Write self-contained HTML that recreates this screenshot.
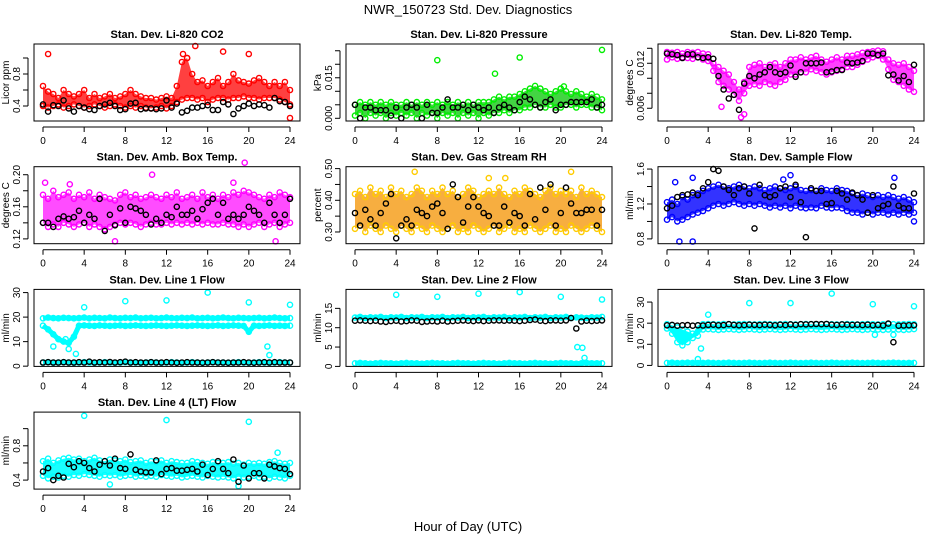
<!DOCTYPE html>
<html><head><meta charset="utf-8">
<style>
html,body{margin:0;padding:0;background:#fff;}
svg{display:block;font-family:"Liberation Sans",sans-serif;}
</style></head>
<body>
<svg id="chart" width="936" height="540" viewBox="0 0 936 540">
<text x="468" y="14" text-anchor="middle" font-size="13">NWR_150723  Std. Dev. Diagnostics</text>
<text x="468" y="531" text-anchor="middle" font-size="13">Hour of Day (UTC)</text>
</svg>
<script>
const hours=[0,0.5,1,1.5,2,2.5,3, 3.5,4,4.5,5,5.5,6,6.5, 7,7.5,8,8.5,9,9.5,10, 10.5,11,11.5,12,12.5,13,13.5, 14,14.5,15,15.5,16,16.5,17, 17.5,18,18.5,19,19.5,20,20.5, 21,21.5,22,22.5,23,23.5,24];
const xTicks=[0,4,8,12,16,20,24];

// CO2
const co2Hi=[.65,.58,.55,.50,.60,.55,.52, .55,.60,.50,.55,.50,.52,.55, .50,.52,.55,.60,.55,.52,.50, .50,.48,.50,.52,.50,.65,.95, 1.0,.80,.70,.72,.65,.70,.75, .65,.70,.80,.72,.70,.68,.72, .75,.70,.65,.70,.65,.70,.60];
const co2Lo=[.40,.38,.40,.42,.38,.40,.42, .40,.38,.40,.42,.40,.38,.40, .42,.40,.38,.40,.38,.40,.38, .37,.38,.40,.37,.40,.45,.48, .50,.50,.48,.50,.45,.48,.50, .50,.48,.50,.50,.52,.50,.50, .48,.50,.50,.50,.48,.45,.42];
const co2Black=[.42,.33,.41,.40,.47,.37,.33, .40,.38,.36,.35,.40,.42,.44, .40,.35,.36,.43,.44,.36,.37, .37,.36,.37,.47,.38,.43,.32, .34,.38,.38,.40,.41,.35,.35, .45,.42,.30,.37,.40,.43,.40, .42,.41,.38,.50,.46,.45,.40];
const co2OutT=[0.5,13.6,14,14.8,17.5,20,24];
const co2OutV=[1.05,1.05,1.0,1.15,1.08,1.05,0.25];

// Pressure
const presHi=[.005,.006,.005,.006,.005,.006,.005, .006,.005,.005,.006,.005,.006,.005, .006,.005,.006,.005,.006,.005,.006, .005,.006,.005,.006,.006,.006,.007, .008,.007,.008,.008,.009,.010,.011, .012,.011,.010,.009,.010,.011,.010, .009,.010,.009,.008,.009,.008,.007];
const presLo=[.001,.002,.000,.002,.001,.002,.000, .002,.001,.002,.001,.002,.000,.002, .001,.002,.000,.002,.001,.002,.000, .002,.001,.002,.000,.002,.001,.002, .002,.003,.002,.003,.003,.004,.004, .005,.004,.004,.005,.004,.004,.005, .005,.004,.005,.005,.004,.004,.003];
const presBlack=[.005,.000,.004,.004,.003,.003,.003, .001,.004,.000,.004,.005,.004,.000, .005,.002,.002,.004,.007,.004,.004, .005,.003,.005,.004,.003,.004,.002, .004,.005,.004,.003,.006,.008,.007, .005,.004,.006,.007,.003,.005,.005, .006,.006,.006,.006,.007,.004,.005];
const presOutT=[8,13.6,16,20.3,24];
const presOutV=[.0215,.0165,.0225,.0118,.0253];

// Li-820 Temp
const tempHi=[.0135,.0134,.0135,.0133,.0135,.0134,.0135, .0133,.0132,.0120,.0115,.0110,.0105,.0095, .0085,.0095,.0115,.0118,.0120,.0115,.0118, .0120,.0115,.0120,.0125,.0125,.0128,.0125, .0128,.0130,.0125,.0122,.0125,.0128,.0125, .0130,.0130,.0132,.0134,.0135,.0136,.0137, .0136,.0125,.0120,.0118,.0120,.0115,.0110];
const tempLo=[.0125,.0128,.0126,.0128,.0127,.0126,.0128, .0125,.0123,.0110,.0095,.0090,.0085,.0078, .0070,.0080,.0090,.0092,.0090,.0095,.0092, .0090,.0095,.0098,.0105,.0105,.0108,.0108, .0112,.0110,.0108,.0105,.0108,.0110,.0112, .0115,.0115,.0118,.0122,.0125,.0128,.0130, .0125,.0112,.0098,.0095,.0090,.0085,.0082];
const tempBlack=[.0133,.0132,.0131,.0127,.0132,.0132,.0128, .0127,.0128,.0126,.0103,.0085,.0073,.0078, .0058,.0093,.0103,.0100,.0105,.0108,.0115, .0108,.0106,.0108,.0117,.0102,.0108,.0120, .0120,.0120,.0121,.0108,.0109,.0111,.0111, .0121,.0120,.0121,.0123,.0133,.0133,.0131, .0133,.0104,.0105,.0097,.0103,.0095,.0118];
const tempOutT=[7.2,7.5,5.3];
const tempOutV=[.0048,.0052,.0062];

// Amb box temp
const ambHi=[.175,.170,.180,.172,.175,.178,.170, .175,.172,.178,.170,.175,.172,.170, .168,.175,.178,.172,.175,.170,.172, .175,.172,.170,.175,.172,.178,.170, .172,.175,.170,.178,.172,.175,.170, .175,.172,.178,.175,.180,.178,.175, .172,.170,.175,.172,.178,.175,.172];
const ambLo=[.140,.135,.138,.135,.140,.138,.135, .138,.140,.135,.138,.135,.132,.135, .138,.140,.138,.140,.138,.135,.138, .140,.138,.138,.140,.138,.140,.138, .140,.138,.140,.138,.140,.138,.138, .140,.138,.138,.135,.138,.135,.138, .140,.135,.138,.140,.135,.138,.140];
const ambBlack=[.140,.140,.135,.145,.148,.145,.147, .155,.140,.150,.145,.170,.130,.150, .137,.158,.140,.160,.158,.155,.150, .138,.145,.140,.150,.147,.160,.150, .150,.155,.145,.157,.165,.170,.150, .165,.145,.150,.145,.150,.160,.155, .150,.140,.165,.150,.140,.150,.170];
const ambOutT=[0.2,10.6,19.6,7,22.6,2.6,18.5];
const ambOutV=[.19,.20,.215,.117,.117,.188,.19];

// Gas stream RH
const rhHi=[.42,.43,.41,.44,.42,.43,.41, .44,.42,.43,.41,.42,.44,.43, .41,.43,.42,.44,.42,.43,.41, .42,.44,.43,.41,.42,.43,.42, .44,.42,.41,.43,.42,.44,.43, .42,.41,.43,.44,.42,.43,.42, .43,.41,.44,.42,.43,.42,.41];
const rhLo=[.31,.32,.30,.32,.31,.30,.32, .31,.30,.32,.31,.30,.32,.31, .30,.32,.31,.30,.31,.32,.30, .31,.30,.32,.31,.30,.31,.32, .30,.31,.32,.30,.31,.30,.32, .31,.30,.31,.32,.30,.31,.30, .32,.31,.30,.31,.32,.31,.30];
const rhBlack=[.36,.32,.37,.34,.32,.36,.39, .42,.28,.32,.34,.32,.37,.36, .35,.38,.39,.36,.31,.45,.41, .33,.38,.41,.38,.36,.35,.32, .32,.38,.33,.36,.35,.32,.42, .34,.44,.37,.45,.32,.36,.44, .39,.36,.36,.37,.37,.32,.37];
const rhOutT=[5.8,13,14.6,21];
const rhOutV=[.49,.47,.47,.49];

// Sample flow
const sfHi=[1.22,1.25,1.20,1.28,1.25,1.30,1.32, 1.35,1.38,1.40,1.42,1.40,1.38,1.40, 1.42,1.40,1.38,1.40,1.38,1.36,1.38, 1.40,1.38,1.36,1.38,1.40,1.36,1.35, 1.36,1.35,1.38,1.36,1.35,1.38,1.36, 1.35,1.32,1.30,1.32,1.30,1.28,1.30, 1.28,1.30,1.28,1.26,1.28,1.25,1.22];
const sfLo=[1.02,1.05,1.00,1.02,1.05,1.08,1.10, 1.12,1.15,1.18,1.20,1.18,1.20,1.22, 1.20,1.18,1.20,1.18,1.20,1.18,1.16, 1.18,1.16,1.18,1.15,1.18,1.16,1.15, 1.16,1.15,1.18,1.16,1.15,1.16,1.15, 1.12,1.10,1.10,1.08,1.10,1.08,1.10, 1.10,1.08,1.10,1.08,1.10,1.08,1.10];
const sfBlack=[1.15,1.18,1.28,1.30,1.31,1.33,1.30, 1.38,1.45,1.60,1.58,1.40,1.36,1.30, 1.38,1.40,1.32,0.92,1.42,1.30,1.28, 1.30,1.38,1.40,1.28,1.42,1.22,0.82, 1.38,1.35,1.35,1.20,1.21,1.35,1.32, 1.25,1.33,1.30,1.25,1.10,1.30,1.15, 1.18,1.20,1.40,1.18,1.15,1.15,1.32];
const sfOutT=[1.2,2.5,0.8,2.5,11.3,12,22.1,24];
const sfOutV=[0.77,0.77,1.45,1.50,1.48,1.53,1.50,1.00];

// Line 1 flow
const l1Hi=[19.5,19.8,19.6,19.5,19.7,19.6,19.5, 19.6,19.8,19.5,19.7,19.6,19.5,19.8, 19.6,19.5,19.7,19.6,19.8,19.5,19.6, 19.7,19.5,19.6,19.8,19.6,19.5,19.7, 19.6,19.8,19.5,19.6,19.7,19.5,19.6, 19.8,19.6,19.5,19.7,19.6,19.5,19.6, 19.7,19.5,19.6,19.8,19.6,19.5,19.6];
const l1Mid=[16.5,15.0,13.0,11.0,10.0,9.5,12.0, 16.5,16.6,16.5,16.4,16.6,16.5,16.4, 16.5,16.6,16.4,16.5,16.6,16.5,16.4, 16.5,16.6,16.5,16.4,16.5,16.6,16.5, 16.4,16.5,16.6,16.5,16.4,16.5,16.6, 16.4,16.5,16.6,16.5,16.4,14.0,16.5, 16.4,16.5,16.6,16.4,16.5,16.4,16.5];
const l1Lo=[1.5,1.6,1.4,1.5,1.6,1.5,1.4, 1.5,1.6,1.5,1.4,1.5,1.6,1.5, 1.4,1.5,1.6,1.5,1.5,1.4,1.5, 1.6,1.5,1.4,1.5,1.6,1.5,1.4, 1.5,1.6,1.5,1.4,1.5,1.6,1.5, 1.5,1.4,1.5,1.6,1.5,1.4,1.5, 1.6,1.5,1.4,1.5,1.6,1.5,1.5];
const l1Black=[1.5,1.6,1.5,1.5,1.6,1.5,1.5, 1.6,1.5,1.8,1.5,1.6,1.5,1.7, 1.5,1.6,1.8,1.5,1.6,1.5,1.5, 1.6,1.5,1.5,1.6,1.5,1.4,1.5, 1.6,1.5,1.5,1.4,1.5,1.6,1.5, 1.5,1.4,1.5,1.5,1.6,1.5,1.4, 1.5,1.6,1.5,1.6,1.5,1.5,1.5];
const l1OutT=[4,8,12,16,20,24,2.5,3.2,21.8,22,1,2.2];
const l1OutV=[24,26.5,26.8,30,26,25,7,5,8,4.5,8,11];

// Line 2 flow
const l2Hi=[12.6,12.8,12.5,12.7,12.6,12.8,12.5, 12.7,12.6,12.8,12.5,12.7,12.6,12.8, 12.5,12.7,12.6,12.8,12.5,12.7,12.6, 12.8,12.5,12.7,12.6,12.8,12.5,12.7, 12.6,12.8,12.5,12.7,12.6,12.8,12.5, 12.7,12.6,12.8,12.5,12.7,12.6,12.8, 12.5,12.7,12.6,12.5,12.7,12.6,12.8];
const l2Lo=[0.8,0.9,0.8,0.7,0.8,0.9,0.8, 0.8,0.7,0.8,0.9,0.8,0.8,0.7, 0.8,0.9,0.8,0.8,0.7,0.8,0.9, 0.8,0.8,0.7,0.8,0.9,0.8,0.8, 0.7,0.8,0.9,0.8,0.8,0.7,0.8, 0.9,0.8,0.8,0.7,0.8,0.9,0.8, 0.8,0.7,0.8,0.9,0.8,0.8,0.8];
const l2Black=[11.8,11.9,11.8,11.7,11.8,11.6,11.5, 11.7,11.8,11.6,11.7,11.9,11.8,11.5, 11.6,11.7,11.6,11.8,11.6,11.7,11.8, 11.9,11.8,11.7,11.9,11.7,11.8,11.9, 11.9,11.8,11.9,11.8,11.7,11.8,12.0, 12.1,11.8,11.7,11.9,11.9,11.8,11.9, 12.5,9.8,11.6,11.8,11.7,11.8,11.9];
const l2OutT=[4,8,12,16,20,24,21.6,22.1,22.3];
const l2OutV=[18.5,18,18.8,19.2,18,17.3,5,4.8,2.2];

// Line 3 flow
const l3Hi=[19.5,19.0,18.0,17.0,16.0,15.0,19.0, 19.5,19.6,19.5,19.4,19.6,19.5,19.4, 19.5,19.6,19.5,19.4,19.5,19.6,19.5, 19.4,19.5,19.6,19.5,19.4,19.5,19.6, 19.5,19.4,19.5,19.6,19.5,19.4,19.5, 19.6,19.5,19.4,19.5,19.6,19.5,19.4, 19.5,19.6,19.5,19.4,19.5,19.6,19.5];
const l3Lo=[17.5,15.0,11.0,9.5,11.0,13.0,14.0, 17.0,17.2,17.0,16.8,17.0,17.2,17.0, 16.8,17.0,17.2,17.0,16.8,17.0,17.2, 17.0,16.8,17.0,17.2,17.0,16.8,17.0, 17.2,17.0,16.8,17.0,17.2,17.0,16.8, 17.0,17.2,17.0,16.8,17.0,17.2,17.0, 16.8,17.0,17.2,17.0,16.8,17.0,17.2];
const l3Bottom=[1.2,1.3,1.1,1.2,1.3,1.2,1.1, 1.2,1.3,1.2,1.1,1.2,1.3,1.2, 1.1,1.2,1.3,1.2,1.1,1.2,1.3, 1.2,1.1,1.2,1.3,1.2,1.1,1.2, 1.3,1.2,1.1,1.2,1.3,1.2,1.1, 1.2,1.3,1.2,1.1,1.2,1.3,1.2, 1.1,1.2,1.3,1.2,1.1,1.2,1.2];
const l3Black=[19.0,19.2,18.8,19.0,19.1,18.8,19.0, 18.9,19.2,19.3,19.0,19.1,19.5,19.2, 19.0,19.1,19.3,19.2,19.1,19.3,19.2, 19.0,19.3,19.1,19.4,19.2,19.5,19.4, 19.5,19.6,19.5,19.6,19.3,19.2,19.4, 19.3,19.2,19.3,19.1,19.3,19.0,19.2, 18.9,19.8,11.0,18.8,18.9,19.0,19.0];
const l3OutT=[4,8,12,16,20,24,3,3.3,20.2,22];
const l3OutV=[24,29.5,29.5,34,29,28,3,8,14.5,14.5];

// Line 4 (LT) flow
const l4Hi=[.62,.65,.60,.63,.65,.66,.64, .65,.62,.64,.66,.63,.62,.64, .63,.62,.64,.61,.62,.63,.60, .62,.61,.63,.60,.62,.61,.60, .60,.62,.61,.60,.59,.61,.60, .60,.61,.59,.60,.58,.60,.59, .60,.59,.61,.62,.60,.59,.60];
const l4Lo=[.45,.42,.44,.43,.45,.44,.46, .45,.47,.46,.45,.44,.46,.45, .46,.44,.45,.46,.44,.45,.44, .45,.44,.46,.45,.44,.45,.43, .44,.45,.44,.43,.45,.44,.43, .44,.43,.42,.44,.43,.44,.45, .43,.44,.42,.44,.43,.42,.45];
const l4Black=[.50,.54,.40,.45,.43,.59,.55, .62,.60,.54,.50,.58,.62,.57, .65,.54,.53,.70,.52,.50,.49, .49,.63,.47,.53,.54,.51,.51, .52,.53,.50,.58,.46,.53,.62, .53,.48,.64,.38,.57,.42,.48, .48,.42,.58,.56,.54,.53,.47];
const l4OutT=[4,12,20,6.5,19,22.8];
const l4OutV=[1.15,1.1,1.08,.35,.33,.72];

const svg=document.getElementById('chart');
const NS='http://www.w3.org/2000/svg';
function mk(tag,attrs,parent){const e=document.createElementNS(NS,tag);for(const k in attrs)e.setAttribute(k,attrs[k]);(parent||svg).appendChild(e);return e;}

function drawPanel(p){
  const left=34+312*p.col, right=left+266, top=44+122.7*p.row, bottom=top+77;
  const xs=t=>left+9+t*(247/24);
  const ys=v=>bottom-(v-p.ymin)/(p.ymax-p.ymin)*77;
  const g=mk('g',{});
  
  
  const ttl=mk('text',{x:(left+right)/2,y:top-6,'text-anchor':'middle','font-size':'11','font-weight':'bold'},g);
  ttl.textContent=p.title;
  
  
  const plot=mk('g',{},g);
  
  
  // bands
  (p.bands||[]).forEach(b=>{
    let d='';
    b.hi.forEach((v,i)=>{d+=(i?'L':'M')+xs(hours[i]).toFixed(1)+','+ys(v).toFixed(1);});
    for(let i=b.lo.length-1;i>=0;i--)d+='L'+xs(hours[i]).toFixed(1)+','+ys(b.lo[i]).toFixed(1);
    const a=mk('path',{d:d+'Z',fill:p.fill,'fill-opacity':p.fillOp||0.8,stroke:'none'},plot);
    
    
  });
  // thick trails
  (p.lines||[]).forEach(arr=>{
    const pts=arr.map((v,i)=>xs(hours[i]).toFixed(1)+','+ys(v).toFixed(1)).join(' ');
    const l=mk('polyline',{points:pts,fill:'none',stroke:p.color,'stroke-width':5,'stroke-linejoin':'round'},plot);
    
    
  });
  const pt=(t,v,col,nm)=>{
    const c=mk('circle',{cx:xs(t).toFixed(1),cy:ys(v).toFixed(1),r:2.6,fill:'none',stroke:col,'stroke-width':1.4},plot);
    
    
  };
  (p.series||[]).forEach(arr=>arr.forEach((v,i)=>pt(hours[i],v,p.color,p.name+'-point')));
  p.outT.forEach((t,i)=>pt(t,p.outV[i],p.color,p.name+'-outlier'));
  p.black.forEach((v,i)=>pt(hours[i],v,'#000',p.name+'-black-point'));
  // box
  const box=mk('rect',{x:left,y:top,width:266,height:77,fill:'none',stroke:'#000','stroke-width':1},g);
  
  
  // x axis
  const xa=mk('g',{},g);
  
  
  mk('line',{x1:xs(0),x2:xs(24),y1:bottom+6,y2:bottom+6,stroke:'#000'},xa);
  xTicks.forEach(t=>{
    mk('line',{x1:xs(t),x2:xs(t),y1:bottom+6,y2:bottom+11,stroke:'#000'},xa);
    const tx=mk('text',{x:xs(t),y:bottom+23,'text-anchor':'middle','font-size':'10'},xa);
    tx.textContent=t;
    
    
  });
  // y axis
  const ya=mk('g',{},g);
  
  
  mk('line',{x1:left-6,x2:left-6,y1:ys(p.yt[0]),y2:ys(p.yt[p.yt.length-1]),stroke:'#000'},ya);
  p.yt.forEach(v=>mk('line',{x1:left-11,x2:left-6,y1:ys(v),y2:ys(v),stroke:'#000'},ya));
  p.yl.forEach(s=>{
    const yy=ys(parseFloat(s));
    const tx=mk('text',{x:left-14,y:yy,'text-anchor':'middle','font-size':'10',transform:`rotate(-90 ${left-14} ${yy})`},ya);
    tx.textContent=s;
    
    
  });
  const yt=mk('text',{x:left-25,y:top+38.5,'text-anchor':'middle','font-size':'10',transform:`rotate(-90 ${left-25} ${top+38.5})`},ya);
  yt.textContent=p.ytitle;
  
  
}

drawPanel({name:'co2',title:'Stan. Dev. Li-820 CO2',col:0,row:0,ymin:0.2125,ymax:1.175,yt:[0.4,0.6,0.8,1.0],yl:['0.4','0.8'],ytitle:'Licor ppm',color:'#ff0000',fill:'#ff0000',fillOp:0.75,bands:[{hi:co2Hi,lo:co2Lo}],series:[co2Hi,co2Lo],black:co2Black,outT:co2OutT,outV:co2OutV});
drawPanel({name:'pressure',title:'Stan. Dev. Li-820 Pressure',col:1,row:0,ymin:-0.001,ymax:0.0275,yt:[0,0.005,0.010,0.015,0.020,0.025],yl:['0.000','0.015'],ytitle:'kPa',color:'#00ee00',fill:'#22cc22',fillOp:0.85,bands:[{hi:presHi,lo:presLo}],series:[presHi,presLo],black:presBlack,outT:presOutT,outV:presOutV});
drawPanel({name:'li820-temp',title:'Stan. Dev. Li-820 Temp.',col:2,row:0,ymin:0.0043,ymax:0.01457,yt:[0.006,0.008,0.010,0.012,0.014],yl:['0.006','0.012'],ytitle:'degrees C',color:'#ff00ff',fill:'#ff00ff',fillOp:0.75,bands:[{hi:tempHi,lo:tempLo}],series:[tempHi,tempLo],black:tempBlack,outT:tempOutT,outV:tempOutV});
drawPanel({name:'amb-box-temp',title:'Stan. Dev. Amb. Box Temp.',col:0,row:1,ymin:0.114,ymax:0.21,yt:[0.12,0.14,0.16,0.18,0.20],yl:['0.12','0.16','0.20'],ytitle:'degrees C',color:'#ff00ff',fill:'#ff00ff',fillOp:0.7,bands:[{hi:ambHi,lo:ambLo}],series:[ambHi,ambLo],black:ambBlack,outT:ambOutT,outV:ambOutV});
drawPanel({name:'gas-stream-rh',title:'Stan. Dev. Gas Stream RH',col:1,row:1,ymin:0.263,ymax:0.506,yt:[0.30,0.35,0.40,0.45,0.50],yl:['0.30','0.40','0.50'],ytitle:'percent',color:'#ffcc00',fill:'#f59a10',fillOp:0.8,bands:[{hi:rhHi,lo:rhLo}],series:[rhHi,rhLo],black:rhBlack,outT:rhOutT,outV:rhOutV});
drawPanel({name:'sample-flow',title:'Stan. Dev. Sample Flow',col:2,row:1,ymin:0.745,ymax:1.627,yt:[0.8,1.0,1.2,1.4,1.6],yl:['0.8','1.2','1.6'],ytitle:'ml/min',color:'#0000ff',fill:'#0000ff',fillOp:0.8,bands:[{hi:sfHi,lo:sfLo}],series:[sfHi,sfLo],black:sfBlack,outT:sfOutT,outV:sfOutV});
drawPanel({name:'line1-flow',title:'Stan. Dev. Line 1 Flow',col:0,row:2,ymin:-0.1,ymax:31.3,yt:[0,10,20,30],yl:['0','10','20','30'],ytitle:'ml/min',color:'#00ffff',fill:'#00ffff',lines:[l1Hi,l1Mid,l1Lo],series:[l1Hi,l1Mid,l1Lo],black:l1Black,outT:l1OutT,outV:l1OutV});
drawPanel({name:'line2-flow',title:'Stan. Dev. Line 2 Flow',col:1,row:2,ymin:0,ymax:19.9,yt:[0,5,10,15],yl:['0','5','10','15'],ytitle:'ml/min',color:'#00ffff',fill:'#00ffff',lines:[l2Hi,l2Lo],series:[l2Hi,l2Lo],black:l2Black,outT:l2OutT,outV:l2OutV});
drawPanel({name:'line3-flow',title:'Stan. Dev. Line 3 Flow',col:2,row:2,ymin:-0.47,ymax:36,yt:[0,10,20,30],yl:['0','10','20','30'],ytitle:'ml/min',color:'#00ffff',fill:'#00ffff',fillOp:1,bands:[{hi:l3Hi,lo:l3Lo}],lines:[l3Bottom],series:[l3Hi,l3Lo,l3Bottom],black:l3Black,outT:l3OutT,outV:l3OutV});
drawPanel({name:'line4-flow',title:'Stan. Dev. Line 4 (LT) Flow',col:0,row:3,ymin:0.295,ymax:1.193,yt:[0.4,0.6,0.8,1.0],yl:['0.4','0.8'],ytitle:'ml/min',color:'#00ffff',fill:'#00ffff',fillOp:0.9,bands:[{hi:l4Hi,lo:l4Lo}],series:[l4Hi,l4Lo],black:l4Black,outT:l4OutT,outV:l4OutV});
</script>
</body></html>
